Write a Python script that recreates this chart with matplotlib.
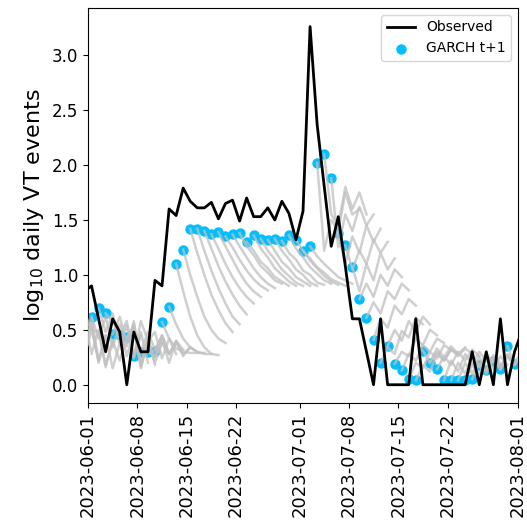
import numpy as np
import pandas as pd
import matplotlib
matplotlib.use("Agg")
import matplotlib.pyplot as plt
import matplotlib.dates as mdates

# daily log10 counts, stamped at midday, first point just before the window
obs_start = "2023-05-31 12:00"
observed = [
    0.85, 0.90, 0.60, 0.30, 0.60, 0.48, 0.00, 0.48, 0.30, 0.30,
    0.95, 0.90, 1.60, 1.54, 1.79, 1.67, 1.61, 1.61, 1.66, 1.51,
    1.65, 1.68, 1.49, 1.70, 1.53, 1.53, 1.61, 1.50, 1.67, 1.56,
    1.32, 1.58, 3.26, 2.37, 1.81, 1.26, 1.53, 1.08, 0.60, 0.60,
    0.30, 0.00, 0.60, 0.00, 0.00, 0.00, 0.00, 0.60, 0.00, 0.00,
    0.00, 0.00, 0.00, 0.00, 0.00, 0.30, 0.00, 0.30, 0.00, 0.60,
    0.00, 0.30, 0.48,
]

# one-step-ahead GARCH predictions
pred_start = "2023-06-01 12:00"
garch_t1 = [
    0.62, 0.70, 0.65, 0.46, 0.45, 0.43, 0.26, 0.30, 0.30, 0.31,
    0.57, 0.71, 1.10, 1.23, 1.42, 1.42, 1.40, 1.37, 1.39, 1.35,
    1.37, 1.38, 1.30, 1.36, 1.33, 1.32, 1.33, 1.31, 1.36, 1.32,
    1.22, 1.26, 2.02, 2.10, 1.88, 1.38, 1.27, 1.07, 0.78, 0.61,
    0.41, 0.20, 0.35, 0.19, 0.13, 0.05, 0.04, 0.31, 0.20, 0.14,
    0.04, 0.04, 0.04, 0.04, 0.05, 0.18, 0.13, 0.22, 0.14, 0.35,
    0.19,
]

# multi-step forecast paths, one per origin (offset in days from pred_start)
path_offsets = list(range(-5, 61))
paths = [
    [0.40, 0.58, 0.30, 0.55, 0.26, 0.50, 0.22],
    [0.50, 0.32, 0.58, 0.34, 0.55, 0.20, 0.45],
    [0.55, 0.38, 0.62, 0.28, 0.50, 0.16, 0.40],
    [0.60, 0.42, 0.60, 0.22, 0.45, 0.15, 0.38],
    [0.66, 0.50, 0.48, 0.18, 0.40, 0.22, 0.44],
    [0.62, 0.42, 0.62, 0.34, 0.55, 0.26, 0.48],
    [0.70, 0.48, 0.65, 0.36, 0.54, 0.24, 0.45],
    [0.65, 0.58, 0.45, 0.58, 0.26, 0.48, 0.20],
    [0.46, 0.62, 0.38, 0.55, 0.20, 0.42, 0.18],
    [0.45, 0.35, 0.58, 0.16, 0.42, 0.20, 0.38],
    [0.43, 0.52, 0.15, 0.40, 0.26, 0.38, 0.28],
    [0.26, 0.58, 0.40, 0.48, 0.24, 0.42, 0.28],
    [0.30, 0.48, 0.32, 0.45, 0.28, 0.40, 0.32],
    [0.30, 0.25, 0.45, 0.28, 0.38, 0.28, 0.34],
    [0.31, 0.42, 0.20, 0.40, 0.26, 0.34, 0.30],
    [0.57, 0.42, 0.33, 0.30, 0.29, 0.29, 0.29],
    [0.71, 0.55, 0.42, 0.34, 0.30, 0.28, 0.28],
    [1.10, 0.85, 0.62, 0.45, 0.34, 0.28, 0.27],
    [1.23, 1.00, 0.80, 0.62, 0.50, 0.42, 0.38],
    [1.42, 1.20, 1.00, 0.82, 0.68, 0.56, 0.48],
    [1.42, 1.22, 1.04, 0.88, 0.74, 0.62, 0.55],
    [1.40, 1.24, 1.08, 0.94, 0.82, 0.72, 0.64],
    [1.37, 1.24, 1.10, 0.98, 0.88, 0.80, 0.74],
    [1.39, 1.26, 1.14, 1.02, 0.92, 0.85, 0.80],
    [1.35, 1.25, 1.14, 1.04, 0.96, 0.90, 0.86],
    [1.37, 1.26, 1.16, 1.06, 0.98, 0.92, 0.88],
    [1.38, 1.26, 1.18, 1.08, 1.02, 0.95, 0.92],
    [1.30, 1.22, 1.12, 1.06, 0.98, 0.94, 0.90],
    [1.36, 1.24, 1.16, 1.06, 1.00, 0.94, 0.90],
    [1.33, 1.22, 1.14, 1.05, 0.99, 0.93, 0.90],
    [1.32, 1.22, 1.12, 1.06, 0.98, 0.94, 0.90],
    [1.33, 1.22, 1.14, 1.05, 1.00, 0.93, 0.90],
    [1.31, 1.20, 1.14, 1.04, 1.00, 0.93, 0.91],
    [1.36, 1.24, 1.16, 1.07, 1.01, 0.95, 0.92],
    [1.32, 1.22, 1.13, 1.06, 0.99, 0.94, 0.91],
    [1.22, 1.15, 1.07, 1.02, 0.96, 0.93, 0.90],
    [1.26, 1.17, 1.10, 1.04, 0.98, 0.95, 0.92],
    [2.02, 1.22, 1.50, 1.40, 1.75, 1.55, 1.60],
    [2.10, 1.55, 1.45, 1.80, 1.60, 1.75, 1.55],
    [1.88, 1.25, 1.55, 1.40, 1.62, 1.45, 1.55],
    [1.38, 1.10, 1.35, 1.20, 1.45, 1.30, 1.42],
    [1.27, 1.05, 1.22, 1.10, 1.32, 1.20, 1.30],
    [1.07, 0.85, 1.10, 0.95, 1.20, 1.05, 1.15],
    [0.78, 0.92, 0.80, 1.00, 0.90, 1.05, 0.98],
    [0.61, 0.75, 0.65, 0.85, 0.78, 0.92, 0.86],
    [0.41, 0.60, 0.52, 0.72, 0.64, 0.78, 0.72],
    [0.20, 0.34, 0.28, 0.49, 0.43, 0.61, 0.55],
    [0.35, 0.50, 0.40, 0.58, 0.48, 0.62, 0.55],
    [0.19, 0.30, 0.26, 0.42, 0.36, 0.50, 0.45],
    [0.13, 0.28, 0.22, 0.36, 0.30, 0.42, 0.38],
    [0.05, 0.20, 0.15, 0.30, 0.24, 0.36, 0.32],
    [0.04, 0.18, 0.12, 0.28, 0.22, 0.32, 0.28],
    [0.31, 0.20, 0.33, 0.25, 0.35, 0.28, 0.34],
    [0.20, 0.30, 0.22, 0.32, 0.26, 0.33, 0.28],
    [0.14, 0.26, 0.18, 0.30, 0.22, 0.32, 0.26],
    [0.04, 0.22, 0.12, 0.28, 0.18, 0.30, 0.22],
    [0.04, 0.20, 0.10, 0.26, 0.16, 0.28, 0.20],
    [0.04, 0.20, 0.10, 0.25, 0.15, 0.27, 0.19],
    [0.04, 0.18, 0.10, 0.24, 0.15, 0.26, 0.18],
    [0.05, 0.20, 0.12, 0.25, 0.16, 0.26, 0.19],
    [0.18, 0.10, 0.24, 0.15, 0.26, 0.18, 0.27],
    [0.13, 0.24, 0.16, 0.27, 0.19, 0.28, 0.21],
    [0.22, 0.14, 0.26, 0.18, 0.28, 0.20, 0.28],
    [0.14, 0.28, 0.18, 0.30, 0.20, 0.30, 0.22],
    [0.35, 0.18, 0.30, 0.20, 0.30, 0.22, 0.30],
    [0.19, 0.30, 0.20, 0.30, 0.22, 0.30, 0.24],
]

tick_dates = ["2023-06-01", "2023-06-08", "2023-06-15", "2023-06-22",
              "2023-07-01", "2023-07-08", "2023-07-15", "2023-07-22",
              "2023-08-01"]

obs_dates = pd.date_range(obs_start, periods=len(observed), freq="D")
pred_dates = pd.date_range(pred_start, periods=len(garch_t1), freq="D")

fig = plt.figure(figsize=(5.27, 5.28), dpi=100)
ax = fig.add_axes([0.167, 0.237, 0.816, 0.748])

ax.scatter(pred_dates, garch_t1, s=42, color="deepskyblue", zorder=2,
           label="GARCH t+1")

# forecast fans
p0 = pd.Timestamp(pred_start)
for off, vals in zip(path_offsets, paths):
    d = pd.date_range(p0 + pd.Timedelta(days=off), periods=len(vals), freq="D")
    ax.plot(d, vals, color="silver", alpha=0.75, lw=1.8, zorder=3)

ln, = ax.plot(obs_dates, observed, color="black", lw=2, zorder=4,
              label="Observed")

ax.set_xlim(pd.Timestamp("2023-06-01"), pd.Timestamp("2023-08-01"))
ax.set_ylim(-0.165, 3.43)
ax.set_xticks([pd.Timestamp(t) for t in tick_dates])
ax.xaxis.set_major_formatter(mdates.DateFormatter("%Y-%m-%d"))
ax.tick_params(axis="x", labelsize=13, labelrotation=90)
ax.tick_params(axis="y", labelsize=12)
ax.set_ylabel("log$_{10}$ daily VT events", fontsize=16)

handles = [ln, ax.collections[0]]
ax.legend(handles=handles, loc="upper right", fontsize=10)

plt.savefig("out.png", dpi=100)
